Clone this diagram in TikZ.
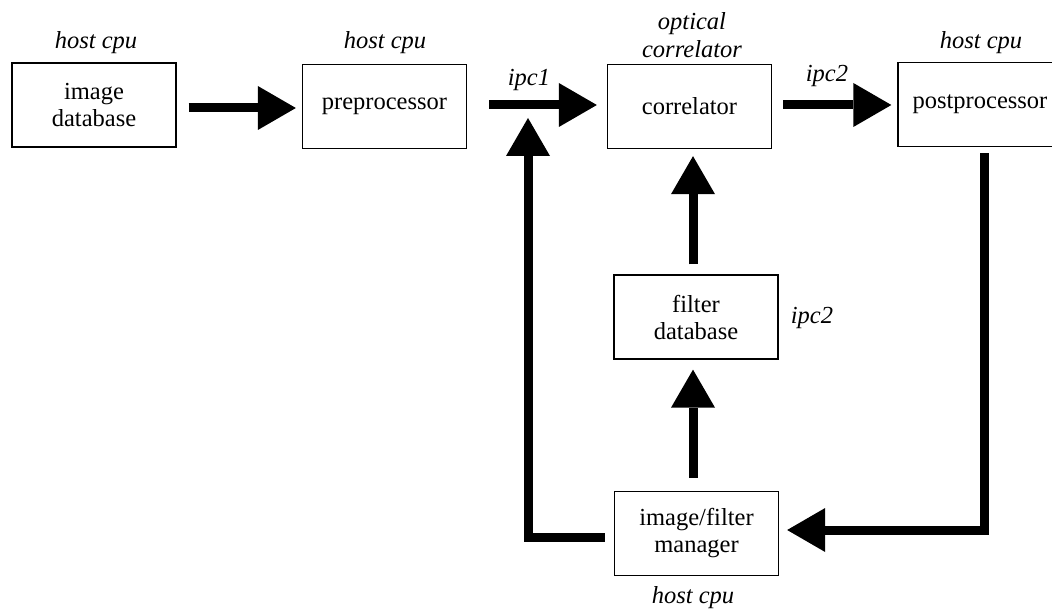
\documentclass[tikz,border=0pt]{standalone}
\usepackage{fontspec}
\setmainfont{Liberation Serif}
\usetikzlibrary{arrows.meta}
\begin{document}
\begin{tikzpicture}[x=1pt,y=-1pt,
  box/.style={draw, line width=1.3pt, minimum width=164pt, minimum height=84pt, inner sep=0pt, align=center, font=\fontsize{24.5}{27}\selectfont},
  lbl/.style={font=\fontsize{24.5}{28}\selectfont\itshape, align=center, inner sep=0pt},
  flow/.style={line width=9pt, -{Triangle[length=38pt,width=44pt,line width=0pt]}},
]
\useasboundingbox (0,0) rectangle (1052,612);
% boxes
\node[box] (imgdb) at (94,105) {image\\database};
\node[box] (pre) at (384.5,106.5) {preprocessor};
\node[box] (corr) at (689.5,106.5) {correlator};
\node[box] (post) at (980,104.5) {postprocessor};
\node[box] (filt) at (696,317) {filter\\database};
\node[box] (mgr) at (696.5,533.5) {image/filter\\manager};
% labels
\node[lbl] (h1) at (96,43) {host cpu};
\node[lbl] (h2) at (385,43) {host cpu};
\node[lbl] (oc) at (692,35) {optical\\correlator};
\node[lbl] (h4) at (981,43) {host cpu};
\node[lbl] (h5) at (693,598) {host cpu};
\node[lbl] (i1) at (529,80) {ipc1};
\node[lbl] (i2) at (827,76) {ipc2};
\node[lbl] (i3) at (812,318) {ipc2};
% connectors
\draw[flow, shorten <=12pt, shorten >=6pt] ([yshift=-3pt]imgdb.east) -- ([yshift=-3pt]imgdb.east -| pre.west);
\draw[flow, shorten <=22pt, shorten >=10pt] ([yshift=1.5pt]pre.east) -- ([yshift=1.5pt]pre.east -| corr.west);
\draw[flow, shorten <=11pt, shorten >=6pt] ([yshift=1.5pt]corr.east) -- ([yshift=1.5pt]corr.east -| post.west);
\draw[flow, shorten <=10pt, shorten >=7pt] ([xshift=-3pt]filt.north) -- ([xshift=-3pt]filt.north |- corr.south);
\draw[flow, shorten <=13pt, shorten >=10pt] ([xshift=-3.5pt]mgr.north) -- ([xshift=-3.5pt]mgr.north |- filt.south);
\coordinate (rc) at (984,530);
\draw[flow, shorten <=6pt, shorten >=8pt] (post.south -| rc) -- (rc) -- (mgr.east |- rc);
\coordinate (lc) at (528,537);
\draw[flow, shorten <=9pt, shorten >=11.5pt] (mgr.west |- lc) -- (lc) -- (lc |- corr.west);
\end{tikzpicture}
\end{document}
